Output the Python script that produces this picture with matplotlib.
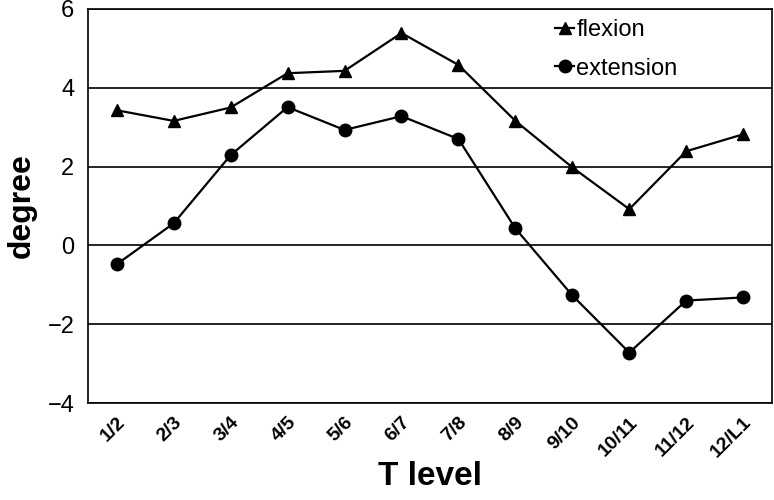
import matplotlib
matplotlib.use("Agg")
import matplotlib.pyplot as plt

levels = ["1/2", "2/3", "3/4", "4/5", "5/6", "6/7", "7/8", "8/9",
          "9/10", "10/11", "11/12", "12/L1"]
flexion = [3.43, 3.16, 3.50, 4.37, 4.43, 5.39, 4.58, 3.16, 1.98, 0.92, 2.39, 2.82]
extension = [-0.48, 0.56, 2.29, 3.51, 2.93, 3.28, 2.70, 0.43, -1.27, -2.72, -1.40, -1.32]

plt.rcParams['font.family'] = ['Liberation Sans', 'DejaVu Sans']

fig = plt.figure(figsize=(7.74, 5.0), dpi=100)
ax = fig.add_axes([0.114, 0.194, 0.883, 0.788])

x = range(len(levels))
ax.plot(x, flexion, color="black", marker="^", markersize=9, lw=1.6, label="flexion")
ax.plot(x, extension, color="black", marker="o", markersize=9, lw=1.6, label="extension")

ax.set_xlim(-0.5, len(levels) - 0.5)
ax.set_ylim(-4, 6)
ax.set_yticks([-4, -2, 0, 2, 4, 6])
ax.set_yticklabels(["\u22124", "\u22122", "0", "2", "4", "6"], fontsize=17)
ax.yaxis.grid(True, color="black", lw=1.2)
ax.set_axisbelow(True)
ax.tick_params(axis="y", length=0, pad=10)
ax.tick_params(axis="x", length=0, pad=8)

ax.set_xticks(list(x))
ax.set_xticklabels(levels, rotation=45, fontsize=14, fontweight="bold", ha="right",
                   rotation_mode="anchor")
for s in ax.spines.values():
    s.set_linewidth(1.2)

ax.set_xlabel("T level", fontsize=24, fontweight="bold", labelpad=0)
ax.set_ylabel("degree", fontsize=23, fontweight="bold", labelpad=8)

ax.legend(loc="upper left", bbox_to_anchor=(0.652, 1.028), frameon=False, fontsize=17,
          handlelength=0.8, handletextpad=0.1, labelspacing=0.7, markerscale=1.0)

plt.savefig("out.png", dpi=100)
